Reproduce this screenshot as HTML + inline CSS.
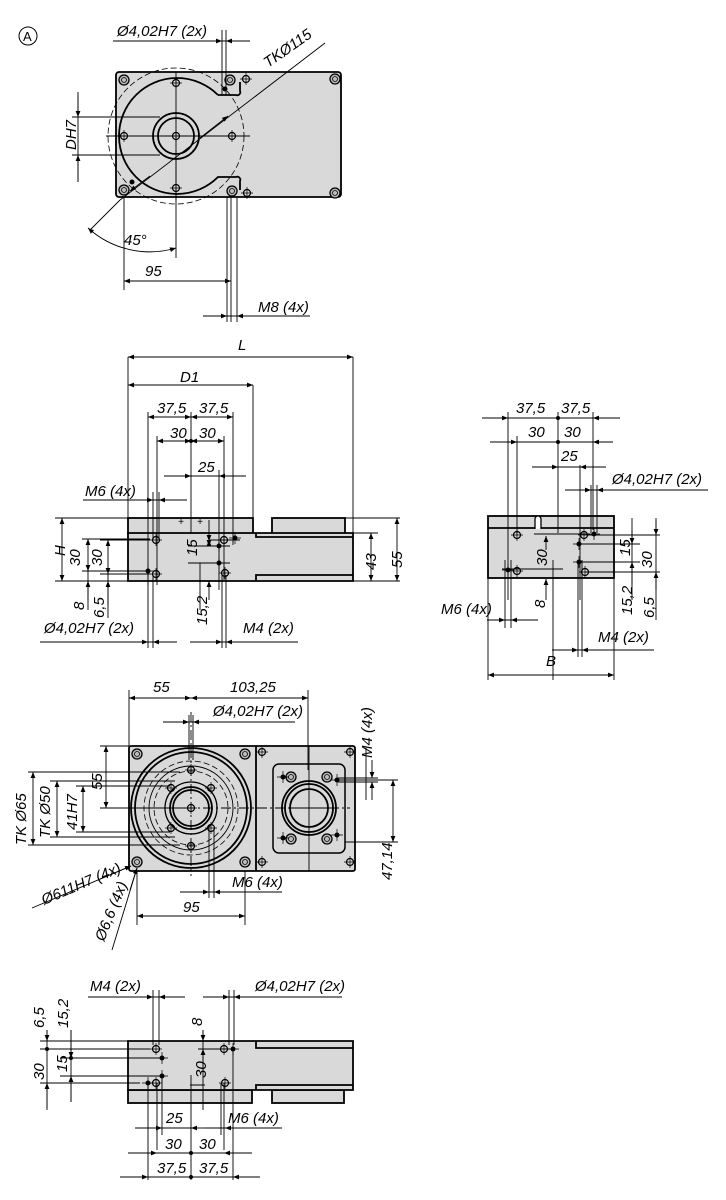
<!DOCTYPE html>
<html><head><meta charset="utf-8"><style>
html,body{margin:0;padding:0;background:#fff}
svg{display:block}
text{font-family:"Liberation Sans Narrow","Liberation Sans",sans-serif;font-style:italic;font-size:15px;fill:#000}
.b{fill:#d9d9d9;stroke:#000;stroke-width:1.8}
.t{fill:none;stroke:#000;stroke-width:0.9}
.k{fill:none;stroke:#000;stroke-width:1.8}
.d{fill:none;stroke:#000;stroke-width:0.8;stroke-dasharray:6 3}
.dm{fill:none;stroke:#000;stroke-width:0.9;marker-start:url(#a);marker-end:url(#a)}
.dm1{fill:none;stroke:#000;stroke-width:0.9;marker-end:url(#a)}
</style></head><body>
<svg width="726" height="1200" viewBox="0 0 726 1200" xmlns="http://www.w3.org/2000/svg">
<defs>
<marker id="a" viewBox="0 0 10 10" refX="10" refY="5" markerWidth="10" markerHeight="6" orient="auto-start-reverse" markerUnits="userSpaceOnUse"><path d="M0,1 L10,5 L0,9z" fill="#000"/></marker>
<g id="sc"><circle r="5" fill="#bbb" stroke="#000" stroke-width="1.3"/><circle r="2.5" fill="none" stroke="#000" stroke-width="0.8"/></g>
<g id="sh"><circle r="3.5" fill="none" stroke="#000" stroke-width="1.2"/><path d="M-6,0H6M0,-6V6" stroke="#000" stroke-width="0.7"/></g>
<g id="dot"><circle r="2.5" fill="#000"/><path d="M-6,0H6M0,-6V6" stroke="#000" stroke-width="0.7"/></g>
</defs>

<!-- ===== VIEW A ===== -->
<circle cx="28" cy="36" r="9" fill="none" stroke="#000" stroke-width="1"/>
<text x="23" y="41" style="font-style:normal;font-size:13px">A</text>
<rect class="b" x="116" y="72" width="225" height="125" rx="3"/>
<circle class="d" cx="176" cy="136" r="68"/>
<path class="k" d="M218,95 A58,58 0 1 0 218,177 H236 A3,3 0 0 1 240,181 V190 M218,95 H236 A3,3 0 0 0 240,91 V82"/>
<circle class="k" cx="176" cy="136" r="23"/><circle class="k" cx="176" cy="136" r="18"/>
<path class="t" d="M106,136H250M176,72V200"/>
<use href="#sc" x="124" y="80"/><use href="#sc" x="124" y="190"/><use href="#sc" x="230" y="80"/><use href="#sc" x="232" y="191"/><use href="#sc" x="335" y="79"/><use href="#sc" x="335" y="193"/>
<use href="#sh" x="246" y="79"/><use href="#sh" x="247" y="193"/>
<use href="#sh" x="176" y="83"/><use href="#sh" x="176" y="188"/><use href="#sh" x="124" y="136"/><use href="#sh" x="232" y="136"/><use href="#sh" x="176" y="136"/>
<circle cx="225" cy="89" r="2.5"/><circle cx="132" cy="182" r="2.5"/>
<text x="117" y="36">Ø4,02H7 (2x)</text>
<path class="t" d="M113,41H250M222,30V95M226,30V95"/>
<path class="dm1" d="M206,41H222"/><path class="dm1" d="M244,41H226"/>
<path class="t" d="M90,230L120,200"/><path class="t" d="M120,200L325,43"/>
<path class="dm1" d="M150,176L130,191"/><path class="dm1" d="M200,138L228,116"/>
<text x="0" y="0" transform="translate(268,68) rotate(-35)">TKØ115</text>
<path class="t" d="M72,117H160M72,155H160"/>
<path class="dm" d="M78,95V117" style="marker-start:none"/><path class="dm" d="M78,182V155" style="marker-start:none"/>
<path class="t" d="M78,92V182"/>
<text transform="translate(76,150) rotate(-90)">DH7</text>
<path class="t" d="M124,197V290M176,150V258M227,197V322M231,197V322M237,197V322"/>
<path class="dm" d="M88,228 A92,92 0 0 0 176,248"/>
<text x="124" y="245">45°</text>
<text x="145" y="276">95</text>
<path class="dm" d="M124,281H231"/>
<text x="258" y="312">M8 (4x)</text>
<path class="t" d="M203,316H310"/><path class="dm1" d="M212,316H227"/><path class="dm1" d="M252,316H237"/>

<!-- ===== SIDE VIEW 1 ===== -->
<rect class="b" x="128" y="518" width="125" height="16"/>
<rect class="b" x="272" y="518" width="73" height="16"/>
<path class="b" d="M128,533H353V581H128Z"/>
<path class="k" d="M256,533V537H353M256,581V575H353"/>
<path class="t" d="M128,357V518M353,357V533M253,385V518"/>
<text x="238" y="350">L</text><path class="dm" d="M128,357H353"/>
<text x="180" y="382">D1</text><path class="dm" d="M128,385H253"/>
<path class="t" d="M148,412V585M191,412V533M233,412V545M157,436V585M224,436V580M219,470V590"/>
<text x="157" y="413">37,5</text><text x="199" y="413">37,5</text>
<path class="dm" d="M148,417H191"/><path class="dm" d="M233,417H191"/>
<text x="170" y="438">30</text><text x="199" y="438">30</text>
<path class="dm" d="M157,441H191"/><path class="dm" d="M224,441H191"/><circle cx="191" cy="441" r="2"/>
<text x="198" y="472">25</text>
<path class="t" d="M164,476H246"/><path class="dm1" d="M175,476H191"/><path class="dm1" d="M232,476H219"/>
<text x="85" y="496">M6 (4x)</text>
<path class="t" d="M83,500H187"/><path class="dm1" d="M138,500H153"/><path class="dm1" d="M172,500H159"/>
<path class="t" d="M153,492V540M159,492V540"/>
<use href="#sh" x="156" y="540"/><use href="#sh" x="156" y="574"/><use href="#dot" x="148" y="571"/>
<use href="#sh" x="224" y="540"/><use href="#sh" x="225" y="573"/><use href="#dot" x="235" y="538"/><use href="#dot" x="219" y="546"/><use href="#dot" x="219" y="563"/>
<text x="178" y="525" style="font-size:10px">+</text><text x="197" y="525" style="font-size:10px">+</text>
<path class="t" d="M55,518H128M55,581H128M82,539H150M82,571H150M100,540H150M100,574H150"/>
<text transform="translate(65,556) rotate(-90)">H</text><path class="dm" d="M62,518V581"/>
<text transform="translate(80,566) rotate(-90)">30</text><path class="dm" d="M88,539V571"/>
<text transform="translate(102,566) rotate(-90)">30</text><path class="dm" d="M108,540V574"/>
<path class="t" d="M88,571V610M108,574V618"/>
<path class="dm1" d="M88,600V581"/><path class="dm1" d="M108,605V581"/>
<text transform="translate(84,610) rotate(-90)">8</text>
<text transform="translate(104,618) rotate(-90)">6,5</text>
<path class="t" d="M209,540H240M188,546H230M188,563H230M200,563V610"/>
<text transform="translate(197,556) rotate(-90)">15</text><path class="dm" d="M209,540V546" style="stroke-width:0.9"/>
<path class="dm1" d="M209,520V541"/><path class="dm1" d="M209,600V581"/>
<text transform="translate(207,625) rotate(-90)">15,2</text>
<path class="t" d="M148,575V648M153,575V648M222,575V648M226,575V648"/>
<text x="44" y="633">Ø4,02H7 (2x)</text>
<path class="t" d="M40,642H177"/><path class="dm1" d="M130,642H148"/><path class="dm1" d="M170,642H153"/>
<text x="243" y="633">M4 (2x)</text>
<path class="t" d="M190,642H298"/><path class="dm1" d="M205,642H222"/><path class="dm1" d="M245,642H226"/>
<path class="t" d="M345,518H400M353,533H378"/>
<text transform="translate(376,570) rotate(-90)">43</text><path class="dm" d="M371,533V581"/>
<text transform="translate(402,568) rotate(-90)">55</text><path class="dm" d="M397,518V581"/>
<path class="t" d="M353,581H400"/>

<!-- ===== SIDE VIEW 2 (right) ===== -->
<rect class="b" x="488" y="516" width="126" height="62"/>
<path class="k" d="M488,528H614"/>
<path d="M535,529V519a3,3 0 0 1 6,0V529" fill="#fff" stroke="#000" stroke-width="1.3"/>
<path class="t" d="M508,412V600M558,412V533M593,412V530M517,436V535M580,465V600M553,560V680M488,578V680M614,578V680"/>
<text x="516" y="413">37,5</text><text x="561" y="413">37,5</text>
<path class="t" d="M482,418H620"/><path class="dm1" d="M494,418H508"/><path class="dm1" d="M607,418H593"/><circle cx="558" cy="418" r="2"/>
<text x="528" y="437">30</text><text x="564" y="437">30</text>
<path class="t" d="M490,442H613"/><path class="dm1" d="M503,442H517"/><path class="dm1" d="M607,442H593"/><circle cx="558" cy="442" r="2"/>
<text x="561" y="461">25</text>
<path class="t" d="M532,467H606"/><path class="dm1" d="M544,467H558"/><path class="dm1" d="M595,467H580"/>
<text x="612" y="484">Ø4,02H7 (2x)</text>
<path class="t" d="M565,490H708M591,485V533M597,485V533"/>
<path class="dm1" d="M578,490H591"/><path class="dm1" d="M610,490H597"/>
<use href="#sh" x="517" y="535"/><use href="#sh" x="517" y="571"/><use href="#dot" x="508" y="570"/>
<use href="#sh" x="584" y="535"/><use href="#sh" x="585" y="572"/><use href="#dot" x="594" y="534"/><use href="#dot" x="579" y="544"/><use href="#dot" x="579" y="562"/>
<path class="t" d="M534,534H590M502,569H563M586,535H660M585,572H660M580,544H640M580,562H640"/>
<text transform="translate(547,566) rotate(-90)">30</text>
<path class="dm1" d="M546,550V536"/><path class="dm1" d="M546,600V579"/>
<text transform="translate(545,608) rotate(-90)">8</text>
<text transform="translate(630,556) rotate(-90)">15</text><path class="t" d="M632,518V600"/><path class="dm1" d="M632,530V544"/><path class="dm1" d="M632,585V562"/>
<text transform="translate(632,615) rotate(-90)">15,2</text>
<text transform="translate(652,568) rotate(-90)">30</text><path class="t" d="M656,518V620"/><path class="dm1" d="M656,520V535"/><path class="dm1" d="M656,590V572"/>
<text transform="translate(654,618) rotate(-90)">6,5</text>
<text x="441" y="614">M6 (4x)</text>
<path class="t" d="M487,620H538M505,560V628M511,560V628"/><path class="dm1" d="M493,620H505"/><path class="dm1" d="M525,620H511"/>
<text x="598" y="642">M4 (2x)</text>
<path class="t" d="M552,650H654M578,560V657M582,560V657"/><path class="dm1" d="M565,650H578"/><path class="dm1" d="M596,650H582"/>
<text x="546" y="666">B</text><path class="dm" d="M488,675H614"/>

<!-- ===== BOTTOM VIEW ===== -->
<rect class="b" x="129" y="746" width="226" height="125" rx="2"/>
<path class="k" d="M256,746V871"/>
<circle class="k" cx="191" cy="808" r="60"/><circle class="k" cx="191" cy="808" r="56"/>
<circle class="t" cx="191" cy="808" r="42"/><circle class="d" cx="191" cy="808" r="37"/><circle class="d" cx="191" cy="808" r="47"/>
<circle class="k" cx="191" cy="808" r="26" style="stroke-width:1.3"/><circle class="k" cx="191" cy="808" r="21"/><circle class="k" cx="191" cy="808" r="18"/>
<path class="t" d="M131,808H350" style="stroke-dasharray:10 3 2 3"/>
<path class="t" d="M191,712V876" style="stroke-dasharray:10 3 2 3"/>
<use href="#sc" x="137" y="754"/><use href="#sc" x="245" y="754"/><use href="#sc" x="137" y="862"/><use href="#sc" x="245" y="862"/>
<use href="#sh" x="262" y="752"/><use href="#sh" x="262" y="862"/><use href="#sh" x="350" y="752"/><use href="#sh" x="350" y="862"/>
<use href="#sh" x="171" y="788"/><use href="#sh" x="211" y="788"/><use href="#sh" x="171" y="828"/><use href="#sh" x="211" y="828"/>
<use href="#sh" x="191" y="770"/><use href="#sh" x="191" y="846"/><use href="#sh" x="191" y="808"/>
<rect x="273" y="764" width="72" height="89" rx="6" fill="none" stroke="#000" stroke-width="1.5"/>
<circle class="k" cx="309" cy="808" r="27"/><circle class="k" cx="309" cy="808" r="24"/><circle class="k" cx="309" cy="808" r="19"/>
<path class="t" d="M309,746V871M290,808H330"/>
<use href="#sc" x="291" y="777"/><use href="#sc" x="327" y="777"/><use href="#sc" x="291" y="839"/><use href="#sc" x="327" y="839"/>
<use href="#dot" x="283" y="777"/><use href="#dot" x="337" y="780"/><use href="#dot" x="283" y="838"/><use href="#dot" x="337" y="835"/>
<path class="t" d="M129,690V746M308,690V770"/>
<text x="153" y="692">55</text><text x="230" y="692">103,25</text>
<path class="dm" d="M129,698H191"/><path class="dm" d="M308,698H191"/>
<text x="213" y="716">Ø4,02H7 (2x)</text>
<path class="t" d="M163,722H295M189,715V760M193,715V760"/>
<path class="dm1" d="M174,722H189"/><path class="dm1" d="M208,722H193"/>
<text transform="translate(372,758) rotate(-90)">M4 (4x)</text>
<path class="t" d="M338,778H378M338,782H378M366,748V800"/><path class="dm1" d="M372,760V778"/><path class="dm1" d="M372,800V782"/>
<path class="t" d="M338,780H398M345,842H398"/>
<text transform="translate(392,880) rotate(-90)">47,14</text><path class="dm" d="M393,780V842"/>
<path class="t" d="M100,746H137M100,808H191M28,772H180M28,845H180M50,781H175M50,837H175M76,786H170M76,832H170"/>
<text transform="translate(26,845) rotate(-90)">TK Ø65</text><path class="dm" d="M33,772V845"/>
<text transform="translate(50,838) rotate(-90)">TK Ø50</text><path class="dm" d="M57,781V837"/>
<text transform="translate(77,830) rotate(-90)">41H7</text><path class="dm" d="M83,786V832"/>
<text transform="translate(102,790) rotate(-90)">55</text><path class="dm" d="M106,746V808"/>
<path class="t" d="M32,908L131,866"/><path class="dm1" d="M100,879L131,866"/>
<text transform="translate(44,905) rotate(-23)">Ø611H7 (4x)</text>
<path class="t" d="M112,950L137,868"/><path class="dm1" d="M130,890L137,868"/>
<text transform="translate(104,942) rotate(-68)">Ø6,6 (4x)</text>
<path class="t" d="M137,871V925M245,871V925M209,828V898M214,828V898"/>
<text x="232" y="887">M6 (4x)</text>
<path class="t" d="M180,892H282"/><path class="dm1" d="M195,892H209"/><path class="dm1" d="M228,892H214"/>
<text x="183" y="912">95</text><path class="dm" d="M137,916H245"/>

<!-- ===== BOTTOM SIDE VIEW ===== -->
<rect class="b" x="128" y="1090" width="124" height="13"/>
<rect class="b" x="272" y="1090" width="72" height="13"/>
<path class="b" d="M128,1041H353V1090H128Z"/>
<path class="k" d="M256,1041V1048H353M256,1090V1085H353"/>
<use href="#sh" x="156" y="1049"/><use href="#sh" x="156" y="1083"/><use href="#dot" x="148" y="1083"/><use href="#dot" x="162" y="1058"/><use href="#dot" x="162" y="1076"/>
<use href="#sh" x="224" y="1049"/><use href="#sh" x="225" y="1083"/><use href="#dot" x="233" y="1049"/>
<text x="90" y="991">M4 (2x)</text>
<path class="t" d="M88,997H185M153,990V1045M159,990V1045"/>
<path class="dm1" d="M140,997H153"/><path class="dm1" d="M172,997H159"/>
<text x="255" y="991">Ø4,02H7 (2x)</text>
<path class="t" d="M203,997H342M229,990V1045M234,990V1045"/>
<path class="dm1" d="M215,997H229"/><path class="dm1" d="M247,997H234"/>
<path class="t" d="M40,1041H128M40,1049H150M60,1058H160M60,1076H160M80,1083H140M40,1083H95M198,1049H230M190,1085H205"/>
<text transform="translate(44,1028) rotate(-90)">6,5</text>
<path class="t" d="M47,1030V1110"/><path class="dm1" d="M47,1030V1041"/><path class="dm1" d="M47,1108V1083"/>
<text transform="translate(68,1028) rotate(-90)">15,2</text>
<path class="t" d="M71,1030V1102"/><path class="dm1" d="M71,1030V1058"/><path class="dm1" d="M71,1102V1076"/>
<text transform="translate(44,1080) rotate(-90)">30</text>
<text transform="translate(67,1072) rotate(-90)">15</text>
<circle cx="47" cy="1049" r="2"/><circle cx="71" cy="1058" r="2"/>
<text transform="translate(202,1026) rotate(-90)">8</text>
<path class="t" d="M203,1030V1110"/><path class="dm1" d="M203,1030V1041"/><path class="dm1" d="M203,1070V1049"/>
<text transform="translate(206,1078) rotate(-90)">30</text>
<path class="t" d="M148,1083V1180M157,1083V1150M162,1076V1135M191,1075V1180M221,1083V1135M224,1083V1150M233,1049V1180"/>
<text x="166" y="1123">25</text>
<path class="t" d="M135,1128H191"/><path class="dm1" d="M148,1128H162"/><path class="dm1" d="M205,1128H191"/>
<text x="228" y="1123">M6 (4x)</text>
<path class="t" d="M205,1128H282"/><path class="dm1" d="M235,1128H225"/>
<text x="165" y="1149">30</text><text x="199" y="1149">30</text>
<path class="t" d="M128,1153H252"/><path class="dm1" d="M140,1153H157"/><path class="dm1" d="M240,1153H224"/><circle cx="191" cy="1153" r="2"/>
<text x="157" y="1173">37,5</text><text x="199" y="1173">37,5</text>
<path class="t" d="M120,1177H260"/><path class="dm1" d="M133,1177H148"/><path class="dm1" d="M248,1177H233"/><circle cx="191" cy="1177" r="2"/>
</svg>
</body></html>
